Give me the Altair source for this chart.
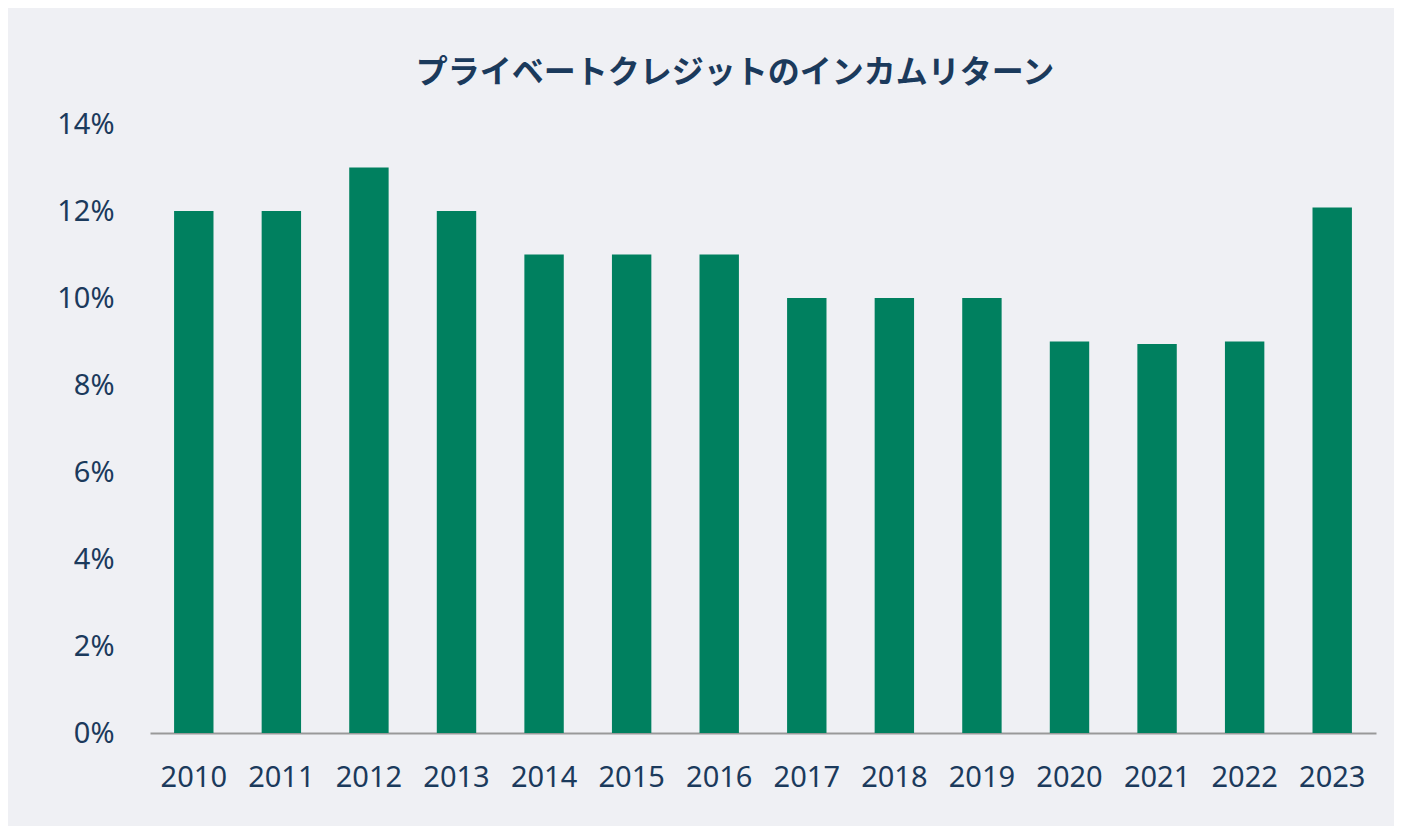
import altair as alt
import pandas as pd

years = [str(y) for y in range(2010, 2024)]
values = [12.0, 12.0, 13.0, 12.0, 11.0, 11.0, 11.0, 10.0, 10.0, 10.0, 9.0, 8.94, 9.0, 12.08]
title_text = "プライベートクレジットのインカムリターン"

df = pd.DataFrame({"year": years, "value": [v / 100 for v in values]})

text_color = "#1b3a5c"

chart = (
    alt.Chart(df)
    .mark_bar(color="#00805f")
    .encode(
        x=alt.X(
            "year:N",
            sort=years,
            title=None,
            scale=alt.Scale(paddingInner=0.55, paddingOuter=0.275),
            axis=alt.Axis(
                labelAngle=0,
                labelFont="Noto Sans",
                labelFontSize=29,
                labelColor=text_color,
                labelPadding=30,
                ticks=False,
                domainColor="#999999",
                domainWidth=2,
            ),
        ),
        y=alt.Y(
            "value:Q",
            title=None,
            scale=alt.Scale(domain=[0, 0.14], nice=False),
            axis=alt.Axis(
                format=".0%",
                values=[0, 0.02, 0.04, 0.06, 0.08, 0.10, 0.12, 0.14],
                labelFont="Noto Sans",
                labelFontSize=29,
                labelColor=text_color,
                labelPadding=36,
                ticks=False,
                domain=False,
                grid=False,
            ),
        ),
    )
    .properties(
        width=1226,
        height=609,
        autosize=alt.AutoSizeParams(type="none"),
        padding={"left": 142, "top": 116, "right": 18, "bottom": 93},
        background="#eff0f4",
        title=alt.TitleParams(
            text=title_text,
            font="Noto Sans CJK JP",
            fontSize=32,
            fontWeight="bold",
            color=text_color,
            anchor="middle",
            dx=-28,
            offset=20,
        ),
    )
    .configure_view(stroke=None)
)

chart.save("out.html", embed_options={"renderer": "svg", "actions": False})
